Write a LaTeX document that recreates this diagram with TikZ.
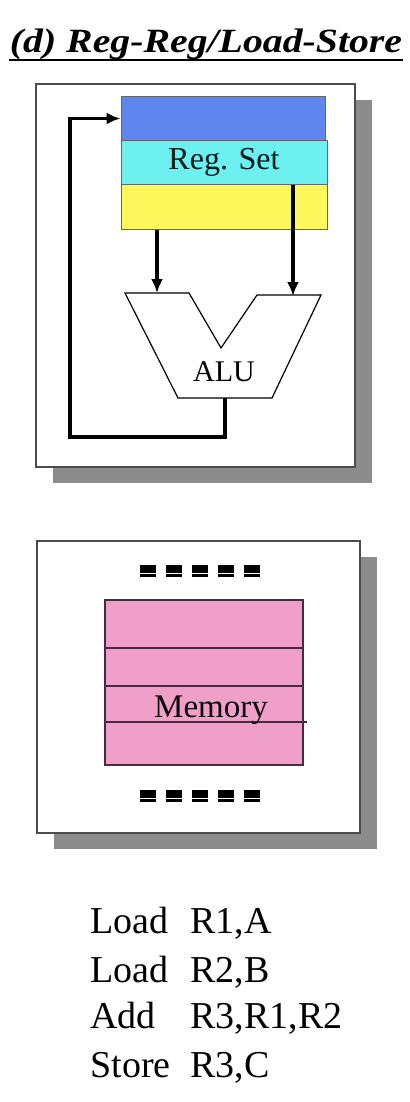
\documentclass[tikz,border=0pt]{standalone}
\usepackage{fontspec}
\setmainfont{Liberation Serif}
\newfontfamily\titlefont[FakeStretch=1.17]{Liberation Serif}
\usepackage{tikz}
\usetikzlibrary{%
    arrows.meta,
    calc
}
\definecolor{REGAcolor}{HTML}{5f86ef}
\definecolor{REGBcolor}{HTML}{6cf0f0}
\definecolor{REGCcolor}{HTML}{fdf85c}
\definecolor{MEMcolor}{HTML}{f0a0c8}
\definecolor{MEMline}{HTML}{4a2a40}
\definecolor{SHADOWcolor}{HTML}{8c8c8c}

\begin{document}
\begin{tikzpicture}[x=0.5pt, y=-0.5pt,
    panel/.style={draw=black!70, line width=0.6pt, fill=white},
    shade/.style={fill=SHADOWcolor},
    regbox/.style={draw=black!60, line width=0.5pt, inner sep=0pt,
        minimum height=22pt, font=\fontsize{16}{19}\selectfont},
    flow/.style={line width=1.9pt, -{Latex[length=7pt, width=6pt]}},
    instr/.style={anchor=base west, inner sep=0pt, font=\fontsize{19}{23}\selectfont}]
    \useasboundingbox (0, 0) rectangle (410, 1102);

    % 标题
    \node (title) [anchor=base, inner sep=0pt, font=\titlefont\fontsize{17}{20}\selectfont\bfseries\itshape]
    at (206, 53) {(d) Reg-Reg/Load-Store};
    \draw [line width=1pt] ([yshift=-3.5pt] title.base west) -- ([yshift=-3.5pt] title.base east);

    % 寄存器和ALU
    \fill [shade] (53, 100) rectangle (372, 483);
    \draw [panel] (36, 84) rectangle (355, 467);
    \node (regA) [regbox, fill=REGAcolor, minimum width=102pt, minimum height=21.5pt] at (223, 118.5) {};
    \node (regB) [regbox, fill=REGBcolor, minimum width=103pt, text=black!80!teal] at (224, 162) {Reg. Set};
    \node (regC) [regbox, fill=REGCcolor, minimum width=103pt, minimum height=22.5pt] at (224, 206.5) {};

    \coordinate (aluA) at (157, 293);
    \coordinate (aluB) at (293, 296);
    \coordinate (aluOut) at (225, 398);
    \coordinate (fb) at (70, 437);
    \draw [line width=0.6pt, fill=white] (125, 293) -- (189, 293) -- (221, 348) -- (257, 295)
    -- (321, 295) -- (272, 398) -- (178, 398) -- cycle;
    \node (alu) [font=\fontsize{15}{18}\selectfont] at (224, 372) {ALU};

    \draw [flow] (regC.south -| aluA) -- (aluA);
    \draw [flow] (regB.south -| aluB) -- (aluB);
    \draw [flow, line join=miter] (aluOut) |- (fb) |- (regA.west);

    % 存储器
    \fill [shade] (54, 557) rectangle (377, 849);
    \draw [panel] (37, 541) rectangle (360, 833);
    \node (mem) [draw=MEMline, line width=0.6pt, fill=MEMcolor, inner sep=0pt,
        minimum width=99pt, minimum height=82.5pt] at (204, 682.5) {};
    \foreach \y in {648, 686} {%
            \draw [MEMline, line width=0.8pt] (mem.west |- 0, \y) -- (mem.east |- 0, \y);
        }
    \draw [MEMline, line width=0.8pt] (mem.west |- 0, 722) -- ([xshift=1.5pt] mem.east |- 0, 722);
    \node [anchor=base, inner sep=0pt, text=black!85!MEMline, font=\fontsize{16.5}{19}\selectfont] at (211, 717) {Memory};
    \foreach \y in {565, 790} {%
            \foreach \i in {0, ..., 4} {%
                    \fill ({140+\i*26}, \y) rectangle ++(16, 8);
                    \fill ({140+\i*26}, \y+9) rectangle ++(16, 3);
                }
        }

    % 指令
    \foreach \op/\args/\y [count=\i] in {Load/{R1,A}/933, Load/{R2,B}/982, Add/{R3,R1,R2}/1028, Store/{R3,C}/1077} {%
            \node (op\i) [instr] at (90, \y) {\op};
            \node (arg\i) [instr] at (190, \y) {\args};
        }
\end{tikzpicture}
\end{document}
